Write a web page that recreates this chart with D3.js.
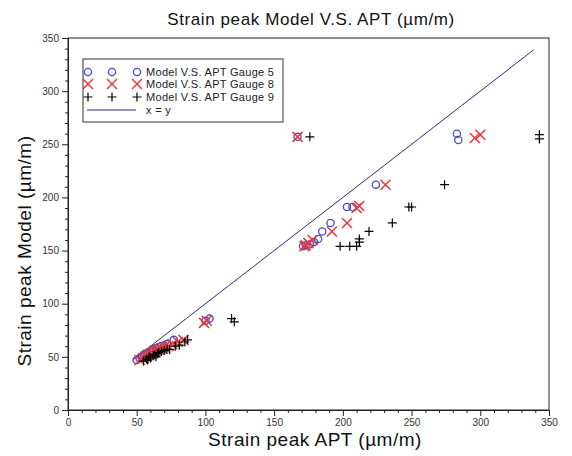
<!DOCTYPE html>
<html>
<head>
<meta charset="utf-8">
<script src="https://cdn.jsdelivr.net/npm/d3@7"></script>
<style>
  html, body { margin: 0; padding: 0; background: #fff; }
  svg { display: block; font-family: "Liberation Sans", Arial, sans-serif; }
</style>
</head>
<body>
<svg id="chart" width="572" height="456"></svg>
<script>
// Gauge 5 (APT, Model) pairs
const gauge5APT   = [283, 284, 167, 224, 203, 207, 191, 185, 182, 179, 176, 173, 171, 100, 103, 50, 52, 54, 55, 57, 58, 60, 61, 62, 64, 66, 68, 70, 72, 77];
const gauge5Model = [260, 254, 257, 212, 191, 191, 176, 168, 161, 158, 156, 155, 154, 84, 86, 47, 49, 50, 52, 53, 54, 55, 57, 57, 58, 59, 60, 61, 62, 66];
// Gauge 8
const gauge8APT   = [296, 300, 167, 231, 210, 212, 203, 192, 178, 175, 173, 172, 99, 101, 52, 55, 57, 58, 60, 62, 63, 64, 66, 68, 70, 73, 76, 80, 84];
const gauge8Model = [256, 259, 257, 212, 190, 192, 176, 168, 160, 157, 155, 154, 82, 84, 47, 49, 50, 52, 53, 54, 55, 56, 57, 58, 59, 60, 62, 64, 66];
// Gauge 9
const gauge9APT   = [343, 343, 176, 274, 248, 250, 236, 219, 212, 212, 210, 205, 198, 119, 121, 55, 57, 58, 59, 60, 62, 63, 64, 65, 66, 68, 70, 72, 74, 78, 81, 85, 87];
const gauge9Model = [259, 255, 257, 212, 191, 191, 176, 168, 161, 158, 154, 154, 154, 86, 83, 46, 48, 47, 50, 49, 51, 52, 50, 53, 54, 55, 56, 57, 57, 60, 61, 64, 66];
// Reference line x = y
const identityLine = [47, 339];
// Axes
const axisTicks = [0, 50, 100, 150, 200, 250, 300, 350];
const legendLabels = ["Model V.S. APT Gauge 5", "Model V.S. APT Gauge 8", "Model V.S. APT Gauge 9", "x = y"];

const svg = d3.select("#chart");
const x = d3.scaleLinear().domain([0, 350]).range([68, 549]);
const y = d3.scaleLinear().domain([0, 350]).range([410, 38]);

const blue = "#4a4ac4", red = "#e8383c", black = "#000", lineCol = "#2c2c78";

// Frame
svg.append("rect")
  .attr("x", x(0)).attr("y", y(350))
  .attr("width", x(350) - x(0)).attr("height", y(0) - y(350))
  .attr("fill", "none").attr("stroke", "#222").attr("stroke-width", 1);

// Minor and major ticks
const minor = d3.range(0, 351, 10).filter(v => v % 50 !== 0);
const gx = svg.append("g").attr("transform", `translate(0,${y(0)})`);
gx.call(d3.axisBottom(x).tickValues(minor).tickSize(3).tickFormat(""));
gx.append("g").call(d3.axisBottom(x).tickValues(axisTicks).tickSize(6).tickPadding(3));
const gy = svg.append("g").attr("transform", `translate(${x(0)},0)`);
gy.call(d3.axisLeft(y).tickValues(minor).tickSize(3).tickFormat(""));
gy.append("g").call(d3.axisLeft(y).tickValues(axisTicks).tickSize(6).tickPadding(3));
svg.selectAll(".domain").attr("stroke", "#222");
svg.selectAll(".tick line").attr("stroke", "#222");
svg.selectAll(".tick text").attr("font-size", 10).attr("fill", "#333")
  .attr("font-family", "Liberation Sans, Arial, sans-serif");

// x = y line
svg.append("line")
  .attr("x1", x(identityLine[0])).attr("y1", y(identityLine[0]))
  .attr("x2", x(identityLine[1])).attr("y2", y(identityLine[1]))
  .attr("stroke", lineCol).attr("stroke-width", 1);

// Marker shapes
function circleMark(g, cx, cy) {
  g.append("circle").attr("cx", cx).attr("cy", cy).attr("r", 3.6)
    .attr("fill", "none").attr("stroke", blue).attr("stroke-width", 1.3);
}
function crossMark(g, cx, cy) {
  const s = 5;
  g.append("path").attr("d", `M${cx - s},${cy - s}L${cx + s},${cy + s}M${cx - s},${cy + s}L${cx + s},${cy - s}`)
    .attr("stroke", red).attr("stroke-width", 1.5).attr("fill", "none");
}
function plusMark(g, cx, cy) {
  const s = 4.5;
  g.append("path").attr("d", `M${cx - s},${cy}L${cx + s},${cy}M${cx},${cy - s}L${cx},${cy + s}`)
    .attr("stroke", black).attr("stroke-width", 1.2).attr("fill", "none");
}

const g5 = svg.append("g"), g8 = svg.append("g"), g9 = svg.append("g");
gauge5APT.forEach((v, i) => circleMark(g5, x(v), y(gauge5Model[i])));
gauge8APT.forEach((v, i) => crossMark(g8, x(v), y(gauge8Model[i])));
gauge9APT.forEach((v, i) => plusMark(g9, x(v), y(gauge9Model[i])));

// Legend
const lg = svg.append("g");
lg.append("rect").attr("x", 83).attr("y", 59).attr("width", 200).attr("height", 63)
  .attr("fill", "#fff").attr("stroke", "#333").attr("stroke-width", 1);
const rowY = [72, 84, 97, 110];
const markX = [88, 112, 137];
markX.forEach(mx => {
  circleMark(lg, mx, rowY[0]);
  crossMark(lg, mx, rowY[1]);
  plusMark(lg, mx, rowY[2]);
});
lg.append("line").attr("x1", 87).attr("x2", 136).attr("y1", rowY[3]).attr("y2", rowY[3])
  .attr("stroke", lineCol).attr("stroke-width", 1);
legendLabels.forEach((t, i) => {
  lg.append("text").attr("x", 146).attr("y", rowY[i] + 4)
    .attr("font-size", 11).attr("letter-spacing", 0.3).attr("fill", "#222").text(t);
});

// Titles
svg.append("text").attr("x", 311).attr("y", 25).attr("text-anchor", "middle")
  .attr("font-size", 17).attr("letter-spacing", 0.6).attr("fill", "#111")
  .text("Strain peak Model V.S. APT (µm/m)");
svg.append("text").attr("x", 315).attr("y", 446).attr("text-anchor", "middle")
  .attr("font-size", 19).attr("letter-spacing", 0.5).attr("fill", "#111")
  .text("Strain peak APT (µm/m)");
svg.append("text").attr("transform", "translate(31,251) rotate(-90)").attr("text-anchor", "middle")
  .attr("font-size", 19).attr("letter-spacing", 0.5).attr("fill", "#111")
  .text("Strain peak Model (µm/m)");
</script>
</body>
</html>
